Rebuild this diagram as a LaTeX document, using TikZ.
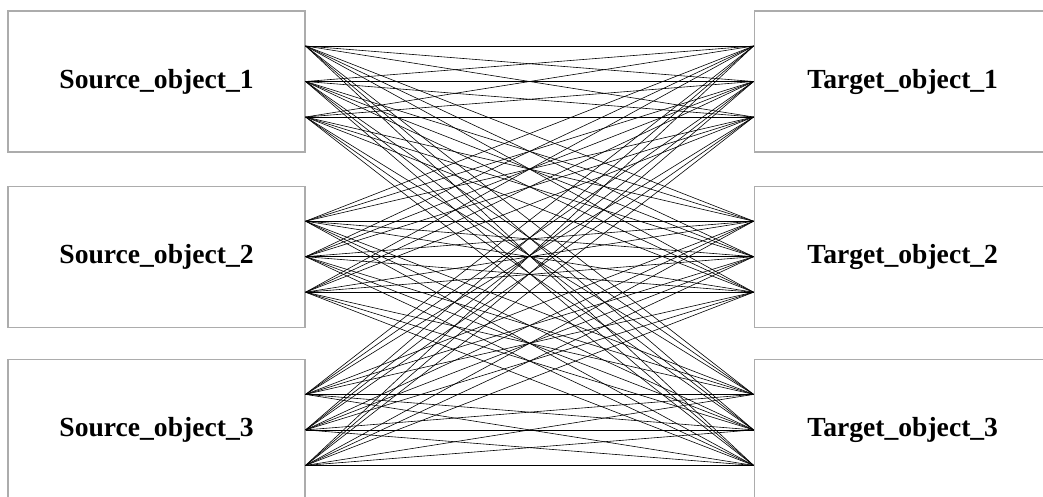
\documentclass[tikz,border=0pt]{standalone}
\usepackage{fontspec}
\setmainfont{Liberation Serif}
\usetikzlibrary{positioning}

\begin{document}
\begin{tikzpicture}[
        x=1pt, y=-1pt,
        node distance=33pt and 448pt,
        font=\fontsize{27.6}{32}\selectfont\bfseries,
        objbox/.style={rectangle, draw=gray!65, line width=1.2pt, fill=white, minimum width=297pt, minimum height=141pt, inner sep=0pt, align=center},
        link/.style={black, line width=0.6pt}
    ]
    \clip (0,0) rectangle (1043,497);

    \node (s1) [objbox] at (156.5,81.5) {Source\_object\_1};
    \node (s2) [objbox, below=of s1] {Source\_object\_2};
    \node (s3) [objbox, below=31pt of s2] {Source\_object\_3};
    \node (t1) [objbox, right=of s1] {Target\_object\_1};
    \node (t2) [objbox, right=of s2] {Target\_object\_2};
    \node (t3) [objbox, right=of s3] {Target\_object\_3};

    % three ports on each box
    \foreach \b in {1,2,3} {
        \coordinate (s\b-1) at ([yshift=35.5pt]s\b.east);
        \coordinate (s\b-2) at (s\b.east);
        \coordinate (s\b-3) at ([yshift=-35.5pt]s\b.east);
        \coordinate (t\b-1) at ([yshift=35.5pt]t\b.west);
        \coordinate (t\b-2) at (t\b.west);
        \coordinate (t\b-3) at ([yshift=-35.5pt]t\b.west);
    }

    % every source port to every target port
    \foreach \s in {1,2,3}
        \foreach \i in {1,2,3}
            \foreach \t in {1,2,3}
                \foreach \j in {1,2,3}
                    \draw [link] (s\s-\i) -- (t\t-\j);
\end{tikzpicture}
\end{document}
